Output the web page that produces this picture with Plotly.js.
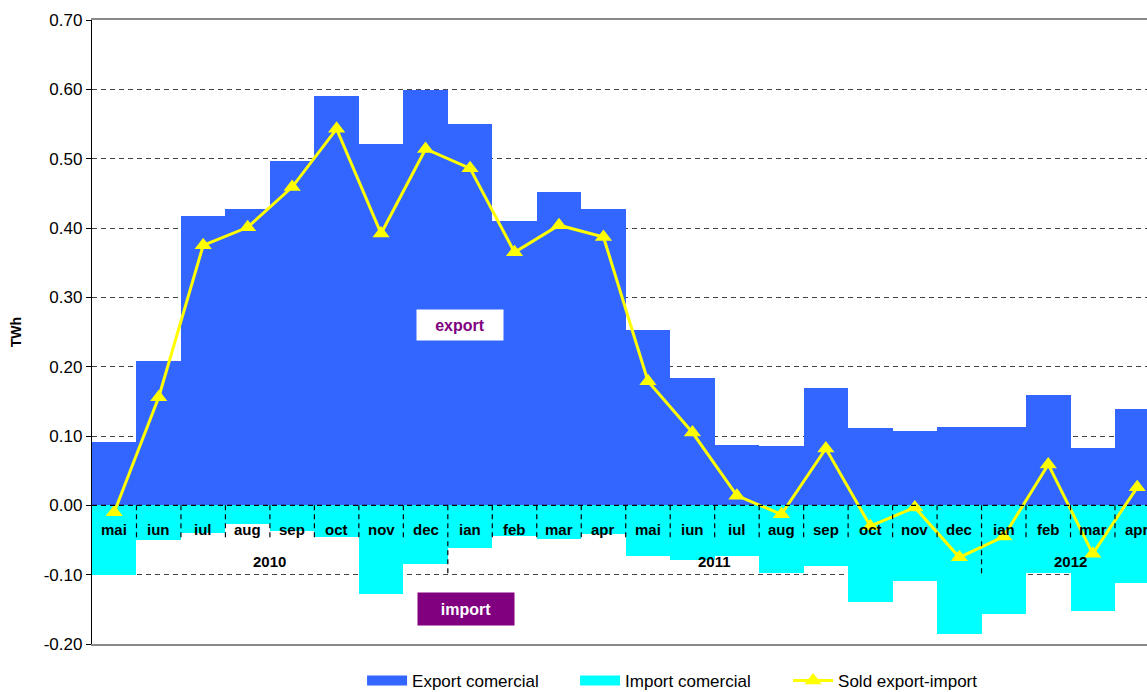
<!DOCTYPE html>
<html>
<head>
<meta charset="utf-8">
<script src="https://cdn.plot.ly/plotly-3.0.1.min.js"></script>
<style>
  body { margin: 0; background: #fff; }
  #myDiv1 { width: 1147px; height: 692px; }
</style>
</head>
<body>
<div id="myDiv1"></div>
<script>
// luni (mai 2010 - apr 2012)
var months = ["mai", "iun", "iul", "aug", "sep", "oct", "nov", "dec",
              "ian", "feb", "mar", "apr", "mai", "iun", "iul", "aug", "sep", "oct", "nov", "dec",
              "ian", "feb", "mar", "apr"];
var years = ["2010", "2011", "2012"];
var yearStart = [0, 8, 20];
var yearEnd = [7, 19, 23];

// TWh
var exportCom = [0.091, 0.208, 0.417, 0.428, 0.496, 0.590, 0.521, 0.599,
                 0.550, 0.410, 0.452, 0.427, 0.253, 0.183, 0.087, 0.085, 0.169, 0.111, 0.107, 0.113,
                 0.113, 0.159, 0.082, 0.139];
var importCom = [-0.100, -0.050, -0.040, -0.027, -0.037, -0.046, -0.128, -0.085,
                 -0.062, -0.044, -0.048, -0.042, -0.073, -0.079, -0.073, -0.098, -0.087, -0.140, -0.109, -0.186,
                 -0.157, -0.098, -0.153, -0.112];
var sold = [-0.010, 0.156, 0.375, 0.401, 0.459, 0.543, 0.392, 0.514,
            0.486, 0.365, 0.404, 0.387, 0.179, 0.105, 0.014, -0.013, 0.082, -0.030, -0.003, -0.075,
            -0.045, 0.059, -0.070, 0.026];

var yTickVals = [-0.2, -0.1, 0, 0.1, 0.2, 0.3, 0.4, 0.5, 0.6, 0.7];
var yTickText = ["-0.20", "-0.10", "0.00", "0.10", "0.20", "0.30", "0.40", "0.50", "0.60", "0.70"];

var BLUE = "#3366FF";
var CYAN = "#00FFFF";
var YELLOW = "#FFFF00";
var PURPLE = "#800080";
var FONT = "Arial, 'Liberation Sans', sans-serif";

var xs = [];
for (var i = 0; i < months.length; i++) {
    xs.push(i);
}

var trExport = {
    x: xs, y: exportCom, type: 'bar', name: 'Export comercial',
    marker: {color: BLUE, line: {width: 0}},
    showlegend: false, legendgroup: 'exp', hoverinfo: 'y'
};
var trImport = {
    x: xs, y: importCom, type: 'bar', name: 'Import comercial',
    marker: {color: CYAN, line: {width: 0}},
    showlegend: false, legendgroup: 'imp', hoverinfo: 'y'
};
var trSold = {
    x: xs, y: sold, type: 'scatter', mode: 'lines+markers', name: 'Sold export-import',
    line: {color: YELLOW, width: 3},
    marker: {symbol: 'triangle-up', size: 15, color: YELLOW},
    legendgroup: 'sold'
};
// legend entries drawn as wide blocks, like the original
var legExport = {
    x: [null], y: [null], type: 'scatter', mode: 'lines', name: 'Export comercial',
    line: {color: BLUE, width: 14}, legendgroup: 'exp'
};
var legImport = {
    x: [null], y: [null], type: 'scatter', mode: 'lines', name: 'Import comercial',
    line: {color: CYAN, width: 14}, legendgroup: 'imp'
};

var annotations = [];
for (var i = 0; i < months.length; i++) {
    annotations.push({
        x: i, y: -0.035, xref: 'x', yref: 'y', text: '<b>' + months[i] + '</b>',
        showarrow: false, font: {family: FONT, size: 15, color: '#000'}
    });
}
for (var k = 0; k < years.length; k++) {
    annotations.push({
        x: (yearStart[k] + yearEnd[k]) / 2, y: -0.081, xref: 'x', yref: 'y',
        text: '<b>' + years[k] + '</b>',
        showarrow: false, font: {family: FONT, size: 15, color: '#000'}
    });
}
annotations.push({
    x: 7.77, y: 0.26, xref: 'x', yref: 'y', text: '<b>export</b>', showarrow: false,
    bgcolor: '#fff', width: 84, height: 28,
    font: {family: FONT, size: 16, color: PURPLE}
});
annotations.push({
    x: 7.9, y: -0.15, xref: 'x', yref: 'y', text: '<b>import</b>', showarrow: false,
    bgcolor: PURPLE, width: 94, height: 30,
    font: {family: FONT, size: 16, color: '#fff'}
});

// category axis drawn at zero: dashed line and dashed separators
var shapes = [{
    type: 'line', xref: 'x', yref: 'y', x0: -0.5, x1: 23.5, y0: 0, y1: 0,
    line: {color: '#000', width: 1.2, dash: '5px,4px'}, layer: 'above'
}];
for (var i = 0; i < months.length - 1; i++) {
    var longTick = (i + 1 === yearStart[1] || i + 1 === yearStart[2]);
    shapes.push({
        type: 'line', xref: 'x', yref: 'y', x0: i + 0.5, x1: i + 0.5,
        y0: 0, y1: longTick ? -0.098 : -0.05,
        line: {color: '#000', width: 1.2, dash: '5px,4px'}, layer: 'above'
    });
}

var layout = {
    width: 1147,
    height: 692,
    margin: {l: 92, r: 0, t: 20, b: 48},
    paper_bgcolor: '#fff',
    plot_bgcolor: '#fff',
    barmode: 'relative',
    bargap: 0,
    font: {family: FONT, size: 17, color: '#000'},
    xaxis: {
        range: [-0.5, 23.22],
        showticklabels: false,
        showgrid: false,
        zeroline: false,
        ticks: '',
        showline: true,
        linecolor: '#888',
        linewidth: 2,
        mirror: true
    },
    yaxis: {
        range: [-0.2, 0.7],
        tickmode: 'array',
        tickvals: yTickVals,
        ticktext: yTickText,
        ticks: 'outside',
        ticklen: 5,
        tickcolor: '#000',
        showline: true,
        linecolor: '#000',
        linewidth: 1.2,
        showgrid: true,
        gridcolor: '#444',
        griddash: '5px,4px',
        gridwidth: 1,
        zeroline: false,
        tickfont: {family: FONT, size: 17, color: '#000'},
        title: {text: '<b>TWh</b>', standoff: 18, font: {family: FONT, size: 14, color: '#000'}}
    },
    legend: {
        orientation: 'h',
        x: 0.256,
        xanchor: 'left',
        xref: 'paper',
        y: 0.042,
        yref: 'container',
        yanchor: 'top',
        itemwidth: 40,
        entrywidth: 158,
        traceorder: 'normal',
        font: {family: FONT, size: 17, color: '#000'}
    },
    annotations: annotations,
    shapes: shapes,
    showlegend: true
};

Plotly.newPlot('myDiv1', [trExport, trImport, legExport, legImport, trSold], layout, {displayModeBar: false, staticPlot: true});
</script>
</body>
</html>
